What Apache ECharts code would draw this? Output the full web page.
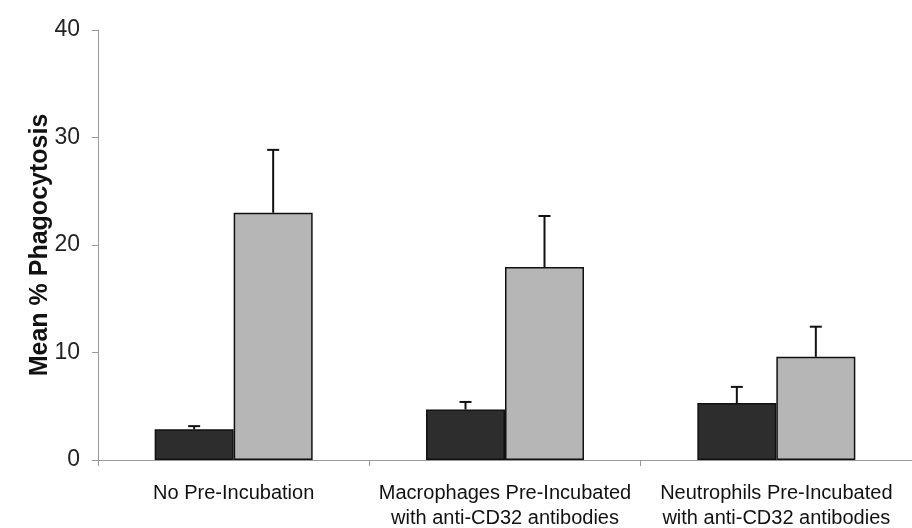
<!DOCTYPE html>
<html>
<head>
<meta charset="utf-8">
<script src="https://cdn.jsdelivr.net/npm/echarts@6/dist/echarts.min.js"></script>
<style>
  html, body { margin: 0; padding: 0; background: #fff; }
  #chart { width: 912px; height: 528px; }
</style>
</head>
<body>
<div id="chart"></div>
<script>
// Experimental conditions along the x axis
const categories = [
  'No Pre-Incubation',
  'Macrophages Pre-Incubated\nwith anti-CD32 antibodies',
  'Neutrophils Pre-Incubated\nwith anti-CD32 antibodies'
];
// Mean phagocytosis (%) for the two groups
const darkMeans = [2.85, 4.7, 5.3];
const lightMeans = [23.0, 17.95, 9.6];
// Upper end of the standard error bars
const darkErrTop = [3.15, 5.4, 6.8];
const lightErrTop = [28.85, 22.7, 12.4];
// Y axis ticks
const yTicks = [0, 10, 20, 30, 40];

const BAR_W = 79;

function errorSeries(errTop, means, side) {
  return {
    type: 'custom',
    z: 1,
    silent: true,
    data: errTop.map((v, i) => [i, means[i], v]),
    renderItem: function (params, api) {
      const base = api.coord([api.value(0), api.value(1)]);
      const top = api.coord([api.value(0), api.value(2)]);
      const x = base[0] + side * BAR_W / 2;
      const cap = 6;
      const style = { stroke: '#111', lineWidth: 2 };
      return {
        type: 'group',
        children: [
          { type: 'line', shape: { x1: x, y1: base[1], x2: x, y2: top[1] }, style: style },
          { type: 'line', shape: { x1: x - cap, y1: top[1], x2: x + cap, y2: top[1] }, style: style }
        ]
      };
    }
  };
}

const chart = echarts.init(document.getElementById('chart'));
chart.setOption({
  animation: false,
  backgroundColor: '#fff',
  grid: { left: 98, right: 0, top: 30, bottom: 68, outerBoundsMode: 'none', containLabel: false },
  xAxis: {
    type: 'category',
    data: categories,
    axisLine: { lineStyle: { color: '#999', width: 1 } },
    axisTick: { show: true, length: 6, lineStyle: { color: '#999' } },
    axisLabel: {
      interval: 0,
      color: '#111',
      fontFamily: '"Liberation Sans", Arial, sans-serif',
      fontSize: 20,
      lineHeight: 25,
      margin: 21
    }
  },
  yAxis: {
    type: 'value',
    min: 0,
    max: 40,
    interval: 10,
    name: 'Mean % Phagocytosis',
    nameLocation: 'middle',
    nameGap: 45,
    nameMoveOverlap: false,
    nameTextStyle: {
      color: '#111',
      fontFamily: '"Liberation Sans", Arial, sans-serif',
      fontWeight: 'bold',
      fontSize: 25
    },
    splitLine: { show: false },
    axisLine: { show: true, lineStyle: { color: '#999', width: 1 } },
    axisTick: { show: true, length: 6, inside: false, lineStyle: { color: '#999' } },
    axisLabel: {
      color: '#222',
      fontFamily: '"Liberation Sans", Arial, sans-serif',
      fontSize: 23,
      margin: 18,
      formatter: v => (yTicks.includes(v) ? String(v) : '')
    }
  },
  series: [
    {
      type: 'bar',
      data: darkMeans,
      barWidth: BAR_W,
      barGap: '0%',
      z: 2,
      itemStyle: { color: '#2d2d2d', borderColor: '#111', borderWidth: 1.5 }
    },
    {
      type: 'bar',
      data: lightMeans,
      barWidth: BAR_W,
      barGap: '0%',
      z: 2,
      itemStyle: { color: '#b6b6b6', borderColor: '#111', borderWidth: 1.5 }
    },
    errorSeries(darkErrTop, darkMeans, -1),
    errorSeries(lightErrTop, lightMeans, 1)
  ]
});
</script>
</body>
</html>
